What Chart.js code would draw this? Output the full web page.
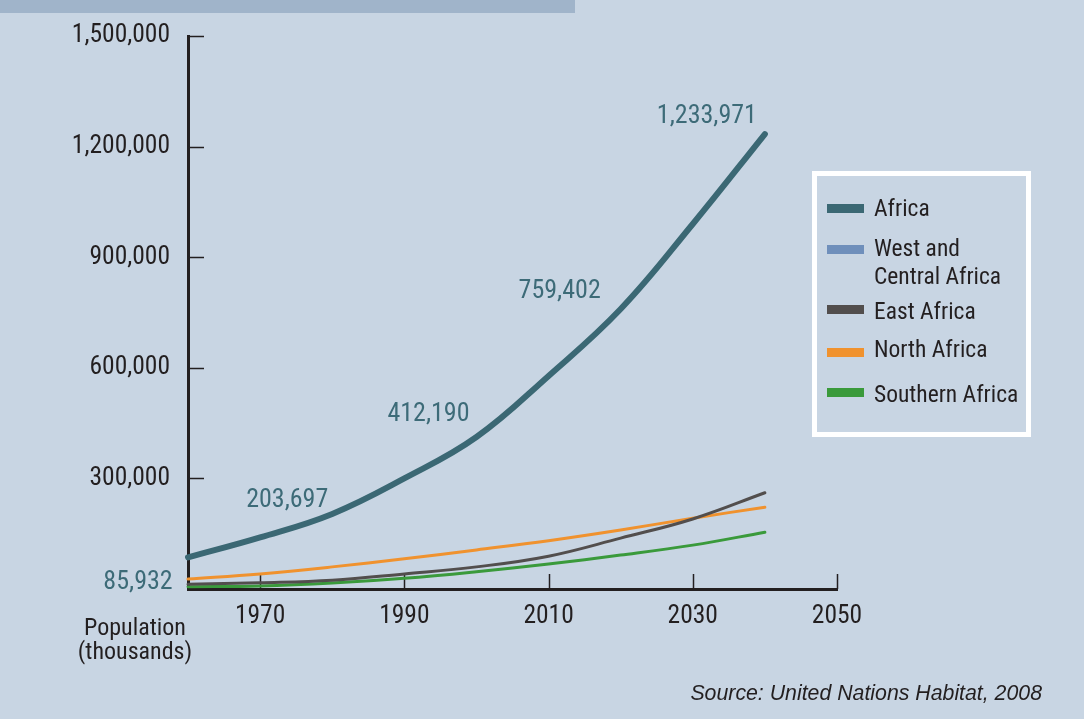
<!DOCTYPE html>
<html><head><meta charset="utf-8">
<script src="https://cdn.jsdelivr.net/npm/chart.js@4.4.1/dist/chart.umd.min.js"></script>
<style>
html,body{margin:0;padding:0;background:#c8d5e3;width:1084px;height:719px;overflow:hidden;position:relative;font-family:'Roboto Condensed',sans-serif;color:#231f20}
#topbar{position:absolute;left:0;top:0;width:575px;height:13px;background:#a0b4ca}
#wrap{position:absolute;left:0;top:0;width:1084px;height:719px}
#legend{position:absolute;left:812px;top:171px;width:209px;height:256px;border:5px solid #fff}
.bar{position:absolute;left:10px;width:37px;height:9px}
.txt{position:absolute;left:57px;font-size:23.5px;line-height:28px;white-space:nowrap}
#ylab{position:absolute;left:60px;top:615px;width:150px;text-align:center;font-size:24px;line-height:24px}
#source{position:absolute;right:42px;top:681px;font-family:'Liberation Sans',Arial,sans-serif;font-style:italic;font-size:21.3px;color:#231f20}
</style></head><body>
<div id="topbar"></div>
<div id="wrap"><canvas id="c" width="1084" height="719"></canvas></div>
<div id="legend"></div>
<div id="ylab">Population<br>(thousands)</div>
<div id="source">Source: United Nations Habitat, 2008</div>
<script>
// ---- data (thousands) ----
const years = [1960, 1970, 1980, 1990, 2000, 2010, 2020, 2030, 2040];
const africa   = [85932, 140000, 203697, 300000, 412190, 578000, 759402, 990000, 1233971];
const eastAfrica  = [12700, 17000, 24000, 41000, 60000, 89000, 138000, 190000, 261000];
const northAfrica = [27000, 41000, 60000, 82000, 106000, 131000, 160000, 192000, 222000];
const southernAfrica = [6000, 8000, 16000, 29000, 47000, 68000, 92000, 119000, 154000];
const xTickYears = [1970, 1990, 2010, 2030, 2050];
const yTickValues = [0, 300000, 600000, 900000, 1200000, 1500000];
const labelledYears = [1960, 1980, 2000, 2020, 2040];
const legendNames = ['Africa', 'West and<br>Central Africa', 'East Africa', 'North Africa', 'Southern Africa'];
const legendColors = ['#3b6874', '#6f8fbb', '#524e4d', '#f0922e', '#3a9a3b'];

// ---- legend (HTML) ----
const barTops = [27.5, 68.5, 128.5, 171.5, 211.5];
const txtTops = [17.5, 58, 121, 159, 204];
const lg = document.getElementById('legend');
legendNames.forEach((n, i) => {
  const b = document.createElement('div'); b.className = 'bar';
  b.style.top = barTops[i] + 'px'; b.style.background = legendColors[i]; lg.appendChild(b);
  const t = document.createElement('div'); t.className = 'txt';
  t.style.top = txtTops[i] + 'px'; t.innerHTML = n; lg.appendChild(t);
});

const FONT = "'Roboto Condensed', sans-serif";
const toXY = arr => arr.map((v, i) => ({x: years[i], y: v}));

const tickMarks = {
  id: 'tickMarks',
  beforeDatasetsDraw(chart) {
    const {ctx, chartArea, scales: {x, y}} = chart;
    ctx.save();
    ctx.strokeStyle = '#231f20';
    ctx.lineWidth = 1.5;
    y.ticks.forEach(t => {
      if (t.value === 0) return;
      const py = Math.round(y.getPixelForValue(t.value)) + 0.5;
      ctx.beginPath(); ctx.moveTo(chartArea.left, py); ctx.lineTo(chartArea.left + 16, py); ctx.stroke();
    });
    x.ticks.forEach(t => {
      const px = Math.round(x.getPixelForValue(t.value)) + 0.5;
      ctx.beginPath(); ctx.moveTo(px, chartArea.bottom); ctx.lineTo(px, chartArea.bottom - 15); ctx.stroke();
    });
    ctx.restore();
  }
};

const labelOffsets = {1960: [-50, 25], 1980: [-45, -13], 2000: [-48, -23], 2020: [-61, -18], 2040: [-58, -18]};
const dataLabels = {
  id: 'dataLabels',
  afterDatasetsDraw(chart) {
    const {ctx} = chart;
    const meta = chart.getDatasetMeta(0);
    ctx.save();
    ctx.font = '26px ' + FONT;
    ctx.fillStyle = '#3d6b78';
    ctx.textAlign = 'center';
    ctx.textBaseline = 'middle';
    labelledYears.forEach(yr => {
      const i = years.indexOf(yr);
      const el = meta.data[i];
      const off = labelOffsets[yr];
      ctx.fillText(africa[i].toLocaleString('en-US'), el.x + off[0], el.y + off[1]);
    });
    ctx.restore();
  }
};

const lineDs = (label, data, color, w) => ({
  label, data: toXY(data), borderColor: color, backgroundColor: color,
  borderWidth: w, pointRadius: 0, tension: 0.4, fill: false,
  borderCapStyle: 'round', clip: false
});

new Chart(document.getElementById('c'), {
  type: 'line',
  data: {
    datasets: [
      lineDs('Africa', africa, '#3b6874', 6),
      lineDs('East Africa', eastAfrica, '#524e4d', 3),
      lineDs('North Africa', northAfrica, '#f0922e', 3),
      lineDs('Southern Africa', southernAfrica, '#3a9a3b', 3)
    ]
  },
  options: {
    responsive: false,
    animation: false,
    layout: {padding: {left: 0, right: 247, top: 36, bottom: 0}},
    plugins: {legend: {display: false}, tooltip: {enabled: false}},
    scales: {
      x: {
        type: 'linear', min: 1960, max: 2050,
        afterBuildTicks: s => { s.ticks = xTickYears.map(v => ({value: v})); },
        afterFit: s => { s.height = 130; },
        grid: {display: false, drawTicks: false},
        border: {display: true, color: '#231f20', width: 3},
        ticks: {padding: 12, color: '#231f20', font: {family: FONT, size: 25.5}, callback: v => String(v), maxRotation: 0}
      },
      y: {
        min: 0, max: 1500000,
        afterBuildTicks: s => { s.ticks = yTickValues.map(v => ({value: v})); },
        afterFit: s => { s.width = 188; },
        grid: {display: false, drawTicks: false},
        border: {display: true, color: '#231f20', width: 3},
        ticks: {padding: 18, color: '#231f20', font: {family: FONT, size: 25.5},
          callback: v => v === 0 ? '' : v.toLocaleString('en-US')}
      }
    }
  },
  plugins: [tickMarks, dataLabels]
});
</script>
</body></html>
